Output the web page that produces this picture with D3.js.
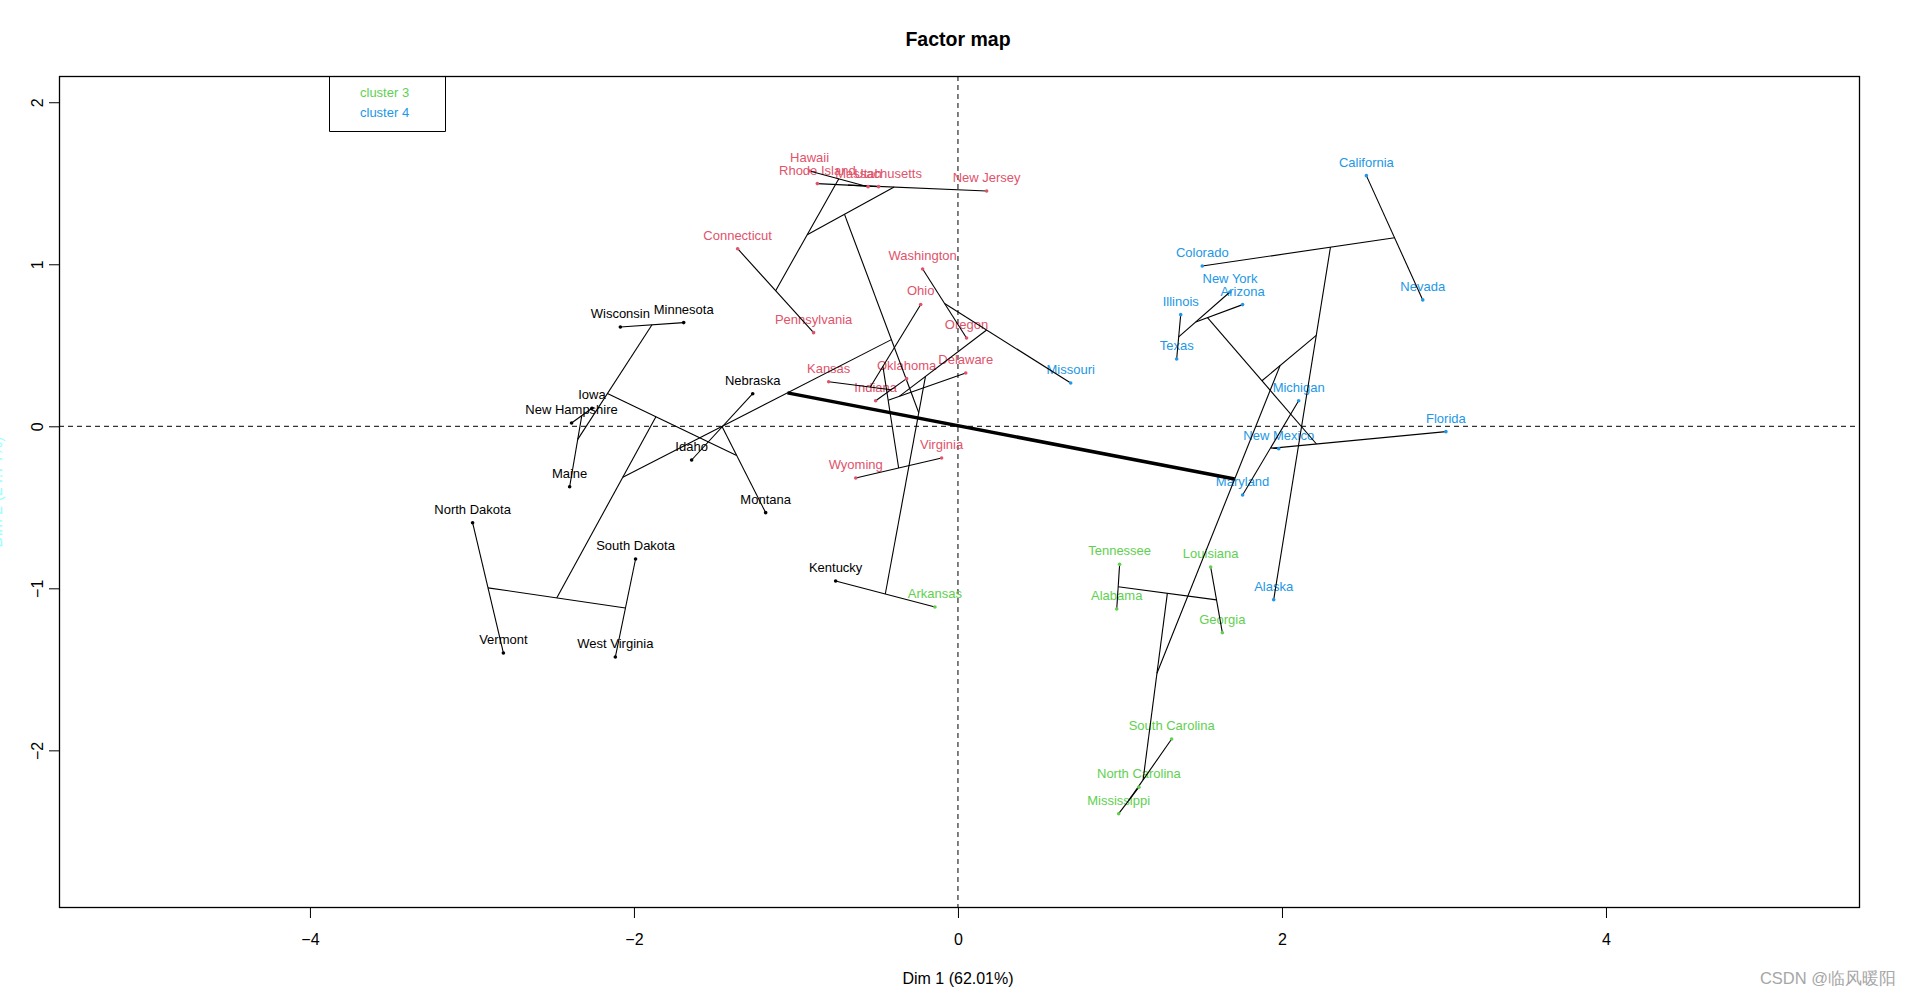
<!DOCTYPE html>
<html><head><meta charset="utf-8">
<script src="https://cdn.jsdelivr.net/npm/d3@7"></script>
<style>body{margin:0;background:#fff;} svg{display:block;}</style>
</head><body>
<svg id="chart" width="1909" height="996"></svg>
<script>
// ---------------- data ----------------
const states = ["Alabama","Alaska","Arizona","Arkansas","California","Colorado","Connecticut","Delaware","Florida","Georgia","Hawaii","Idaho","Illinois","Indiana","Iowa","Kansas","Kentucky","Louisiana","Maine","Maryland","Massachusetts","Michigan","Minnesota","Mississippi","Missouri","Montana","Nebraska","Nevada","New Hampshire","New Jersey","New Mexico","New York","North Carolina","North Dakota","Ohio","Oklahoma","Oregon","Pennsylvania","Rhode Island","South Carolina","South Dakota","Tennessee","Texas","Utah","Vermont","Virginia","Washington","West Virginia","Wisconsin","Wyoming"];
const dim1 = [0.980,1.949,1.757,-0.142,2.521,1.508,-1.360,0.048,3.012,1.632,-0.916,-1.644,1.375,-0.508,-2.259,-0.798,-0.755,1.560,-2.397,1.757,-0.490,2.103,-1.693,0.992,0.696,-1.187,-1.267,2.869,-2.385,0.177,1.980,1.679,1.117,-2.996,-0.230,-0.317,0.053,-0.891,-0.868,1.319,-1.990,0.998,1.350,-0.555,-2.806,-0.101,-0.218,-2.115,-2.084,-0.631];
const dim2 = [-1.128,-1.070,0.751,-1.115,1.547,0.989,1.096,0.329,-0.033,-1.274,1.576,-0.208,0.689,0.158,0.111,0.275,-0.955,-0.869,-0.373,-0.424,1.479,0.158,0.640,-2.391,0.267,-0.533,0.201,0.780,0.020,1.452,-0.138,0.829,-2.227,-0.595,0.752,0.294,0.545,0.578,1.498,-1.930,-0.819,-0.852,0.415,1.479,-1.399,-0.196,0.971,-1.424,0.613,-0.319];
const clusters = [3,4,4,3,4,4,2,2,4,3,2,1,4,2,1,2,1,3,1,4,2,4,1,3,4,1,1,4,1,2,4,4,3,1,2,2,2,2,2,3,1,3,4,2,1,2,2,1,1,2];
const clusterColors = {1:"#000000",2:"#DF536B",3:"#61D04F",4:"#2297E6"};
// hierarchical tree: strings are states, numbers refer to earlier merges
const merges = [
  ["Wisconsin","Minnesota"],["Iowa","New Hampshire"],[1,"Maine"],[2,0],
  ["Nebraska","Idaho"],[4,"Montana"],[3,5],
  ["North Dakota","Vermont"],["South Dakota","West Virginia"],[7,8],[6,9],
  ["Hawaii","Utah"],["Connecticut","Pennsylvania"],[11,12],
  ["Rhode Island","Massachusetts"],[14,"New Jersey"],[15,13],
  ["Washington","Oregon"],[17,"Missouri"],
  ["Oklahoma","Indiana"],[19,"Kansas"],[20,"Ohio"],["Virginia","Wyoming"],[21,22],[23,"Delaware"],[24,18],
  ["Kentucky","Arkansas"],[25,26],[16,27],[10,28],
  ["Tennessee","Alabama"],["Louisiana","Georgia"],[30,31],["North Carolina","Mississippi"],[33,"South Carolina"],[32,34],
  ["California","Nevada"],[36,"Colorado"],[37,"Alaska"],
  ["Illinois","Texas"],[39,"New York"],[40,"Arizona"],
  ["Michigan","Maryland"],[42,"New Mexico"],[43,"Florida"],[41,44],[38,45],
  [35,46],[29,47]
];
const xTicks = [-4,-2,0,2,4];
const yTicks = [-2,-1,0,1,2];
const legendLabels = ["cluster 3","cluster 4"];
const legendClusters = [3,4];
const titleText = "Factor map";
const xLabel = "Dim 1 (62.01%)";
const yLabel = "Dim 2 (24.74%)";
const watermark = "CSDN @临风暖阳";

// ---------------- layout ----------------
const L = 59, R = 1860, T = 76, B = 908;
const font = "'Liberation Sans', Arial, sans-serif";
const svg = d3.select("#chart");
const x = d3.scaleLinear().domain([-5.549, 5.568]).range([L, R]);
const y = d3.scaleLinear().domain([-2.973, 2.162]).range([B, T]);

svg.append("defs").append("clipPath").attr("id","clip")
  .append("rect").attr("x",L).attr("y",T).attr("width",R-L).attr("height",B-T);

const plot = svg.append("g").attr("clip-path","url(#clip)");

// dashed axes lines
plot.append("line").attr("x1",L).attr("x2",R).attr("y1",y(0)).attr("y2",y(0))
  .attr("stroke","#000").attr("stroke-dasharray","5,4");
plot.append("line").attr("x1",x(0)).attr("x2",x(0)).attr("y1",T).attr("y2",B)
  .attr("stroke","#000").attr("stroke-dasharray","5,4");

const pts = states.map((s,i)=>({name:s,x:dim1[i],y:dim2[i],c:clusters[i]}));
const byName = {}; pts.forEach(p=>byName[p.name]=p);

// labels
plot.selectAll("text.lab").data(pts).join("text").attr("class","lab")
  .attr("x",d=>x(d.x)).attr("y",d=>y(d.y)-9)
  .attr("text-anchor","middle").attr("font-family",font).attr("font-size",13)
  .attr("fill",d=>clusterColors[d.c]).text(d=>d.name);

// tree
const centers = [];
function node(ref){
  if (typeof ref === "string") { const p = byName[ref]; return {x:p.x,y:p.y,n:1}; }
  return centers[ref];
}
const segs = [];
merges.forEach((m,i)=>{
  const a = node(m[0]), b = node(m[1]);
  const n = a.n + b.n;
  centers.push({x:(a.x*a.n+b.x*b.n)/n, y:(a.y*a.n+b.y*b.n)/n, n:n});
  segs.push({a:a,b:b,root:i===merges.length-1});
});
plot.selectAll("line.seg").data(segs).join("line").attr("class","seg")
  .attr("x1",d=>x(d.a.x)).attr("y1",d=>y(d.a.y)).attr("x2",d=>x(d.b.x)).attr("y2",d=>y(d.b.y))
  .attr("stroke","#000").attr("stroke-width",d=>d.root?3.5:1.1);

// points
plot.selectAll("circle.pt").data(pts).join("circle").attr("class","pt")
  .attr("cx",d=>x(d.x)).attr("cy",d=>y(d.y)).attr("r",1.8)
  .attr("fill",d=>clusterColors[d.c]);

// legend (partially outside plot)
const lg = svg.append("g");
lg.append("path").attr("d",`M329.5,${T} V131.5 H445.5 V${T}`).attr("fill","none").attr("stroke","#000");
legendLabels.forEach((t,i)=>{
  lg.append("text").attr("x",360).attr("y",96.7+i*20).attr("font-family",font).attr("font-size",13)
    .attr("fill",clusterColors[legendClusters[i]]).text(t);
});

// box
svg.append("rect").attr("x",L+0.5).attr("y",T+0.5).attr("width",R-L-1).attr("height",B-T-1)
  .attr("fill","none").attr("stroke","#000").attr("stroke-width",1.3);

// axes
const xAxis = svg.append("g").attr("transform",`translate(0,${B})`)
  .call(d3.axisBottom(x).tickValues(xTicks).tickSize(10).tickFormat(d3.format("d")));
xAxis.select(".domain").remove();
xAxis.selectAll("text").attr("font-family",font).attr("font-size",16).attr("fill","#000").attr("dy",null).attr("y",37);
xAxis.selectAll("line").attr("stroke","#000");

const yAxis = svg.append("g").attr("transform",`translate(${L},0)`)
  .call(d3.axisLeft(y).tickValues(yTicks).tickSize(10).tickFormat(d3.format("d")));
yAxis.select(".domain").remove();
yAxis.selectAll("line").attr("stroke","#000");
yAxis.selectAll("text").attr("font-family",font).attr("font-size",16).attr("fill","#000")
  .attr("x",null).attr("dy",null).attr("text-anchor","middle")
  .attr("transform","translate(-22,0) rotate(-90) translate(0,0)").attr("y",0).attr("dy","0.35em");

// titles
svg.append("text").attr("x",958).attr("y",45.5).attr("text-anchor","middle").attr("font-family",font)
  .attr("font-weight","bold").attr("font-size",19.5).text(titleText);
svg.append("text").attr("x",958).attr("y",984).attr("text-anchor","middle").attr("font-family",font)
  .attr("font-size",16).text(xLabel);
svg.append("text").attr("transform",`translate(2,492) rotate(-90)`).attr("text-anchor","middle")
  .attr("font-family",font).attr("font-size",16).attr("fill","#9ff").text(yLabel);
svg.append("text").attr("x",1896).attr("y",984).attr("text-anchor","end").attr("font-family",font)
  .attr("font-size",16.5).attr("fill","#a6a6a6").text(watermark);
</script>
</body></html>
